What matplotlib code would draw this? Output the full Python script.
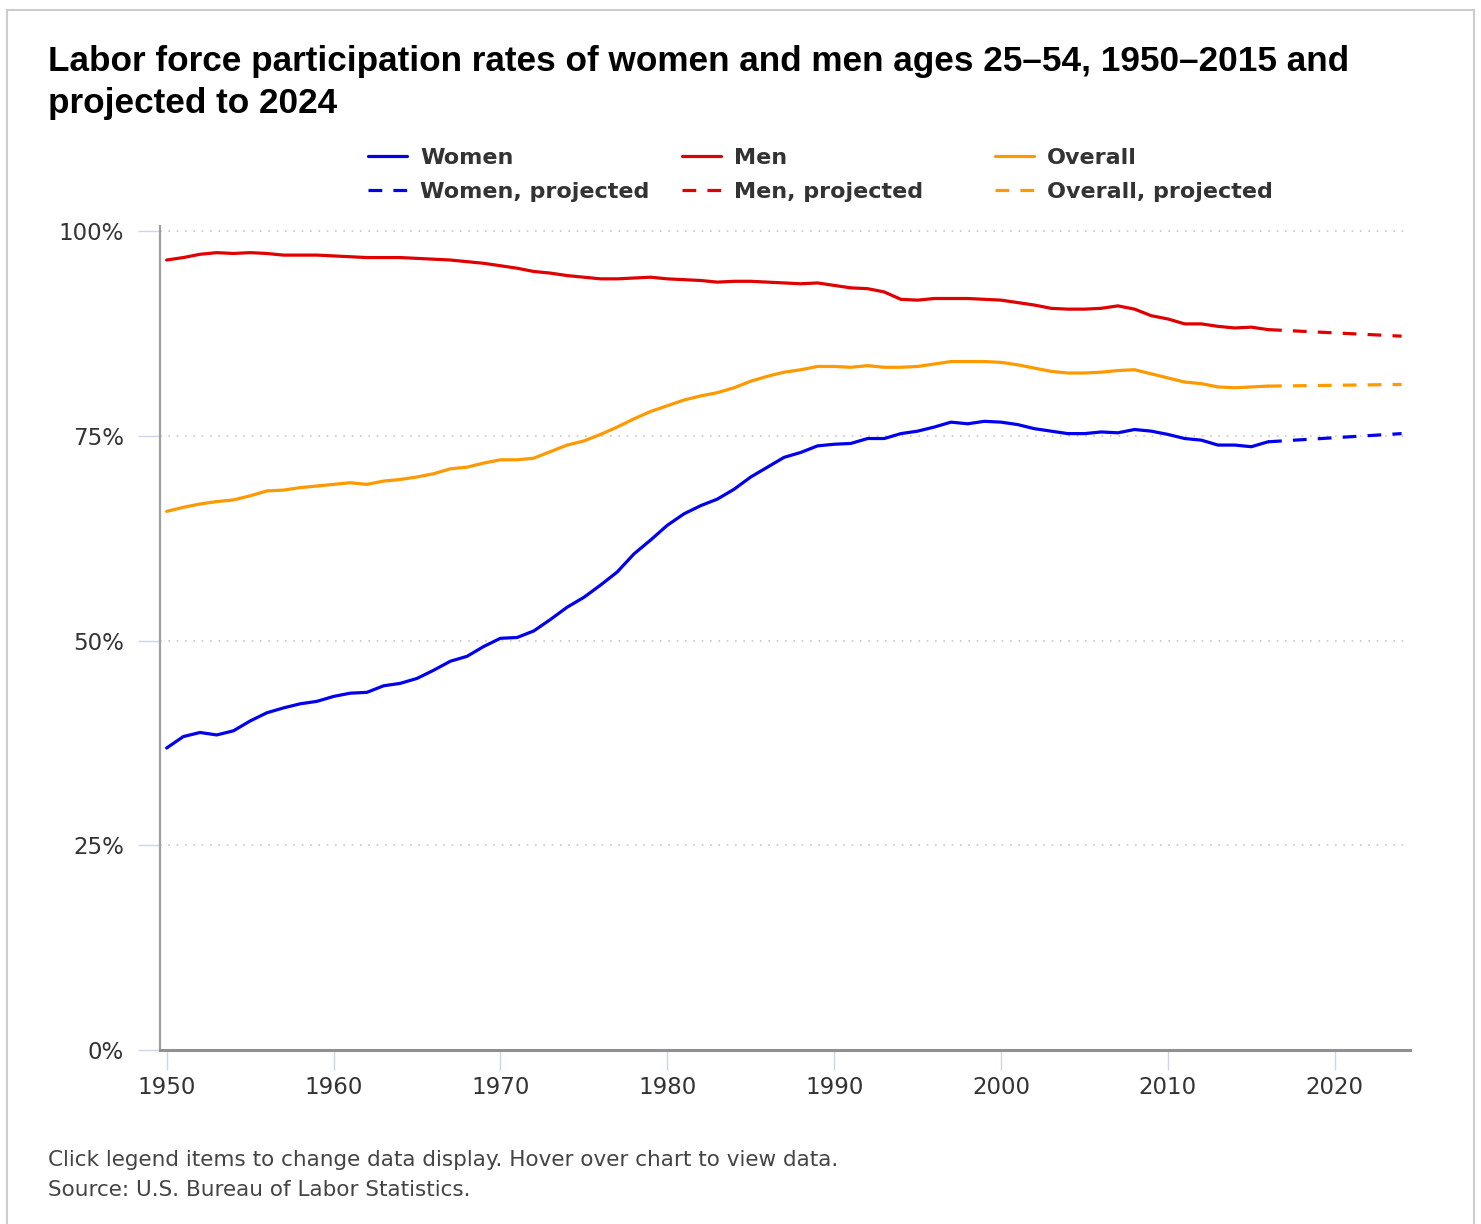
import numpy as np
import matplotlib
matplotlib.use("Agg")
import matplotlib.pyplot as plt
from matplotlib.patches import Rectangle
from matplotlib.ticker import FuncFormatter

## donnees
years = list(range(1950, 2017))
women = [36.9, 38.3, 38.8, 38.5, 39.0, 40.2, 41.2, 41.8, 42.3, 42.6,
         43.2, 43.6, 43.7, 44.5, 44.8, 45.4, 46.4, 47.5, 48.1, 49.3,
         50.3, 50.4, 51.2, 52.6, 54.1, 55.3, 56.8, 58.4, 60.6, 62.3,
         64.1, 65.5, 66.5, 67.3, 68.5, 70.0, 71.2, 72.4, 73.0, 73.8,
         74.0, 74.1, 74.7, 74.7, 75.3, 75.6, 76.1, 76.7, 76.5, 76.8,
         76.7, 76.4, 75.9, 75.6, 75.3, 75.3, 75.5, 75.4, 75.8, 75.6,
         75.2, 74.7, 74.5, 73.9, 73.9, 73.7, 74.3]
men = [96.5, 96.8, 97.2, 97.4, 97.3, 97.4, 97.3, 97.1, 97.1, 97.1,
       97.0, 96.9, 96.8, 96.8, 96.8, 96.7, 96.6, 96.5, 96.3, 96.1,
       95.8, 95.5, 95.1, 94.9, 94.6, 94.4, 94.2, 94.2, 94.3, 94.4,
       94.2, 94.1, 94.0, 93.8, 93.9, 93.9, 93.8, 93.7, 93.6, 93.7,
       93.4, 93.1, 93.0, 92.6, 91.7, 91.6, 91.8, 91.8, 91.8, 91.7,
       91.6, 91.3, 91.0, 90.6, 90.5, 90.5, 90.6, 90.9, 90.5, 89.7,
       89.3, 88.7, 88.7, 88.4, 88.2, 88.3, 88.0]
overall = [65.8, 66.3, 66.7, 67.0, 67.2, 67.7, 68.3, 68.4, 68.7, 68.9,
           69.1, 69.3, 69.1, 69.5, 69.7, 70.0, 70.4, 71.0, 71.2, 71.7,
           72.1, 72.1, 72.3, 73.1, 73.9, 74.4, 75.2, 76.1, 77.1, 78.0,
           78.7, 79.4, 79.9, 80.3, 80.9, 81.7, 82.3, 82.8, 83.1, 83.5,
           83.5, 83.4, 83.6, 83.4, 83.4, 83.5, 83.8, 84.1, 84.1, 84.1,
           84.0, 83.7, 83.3, 82.9, 82.7, 82.7, 82.8, 83.0, 83.1, 82.6,
           82.1, 81.6, 81.4, 81.0, 80.9, 81.0, 81.1]

proj_years = [2016, 2024]
women_proj = [74.3, 75.3]
men_proj = [88.0, 87.2]
overall_proj = [81.1, 81.3]

c_women = "#0000ee"
c_men = "#e00000"
c_overall = "#ff9900"

fig = plt.figure(figsize=(14.81, 12.24), dpi=100)
ax = fig.add_axes([0.108, 0.142, 0.844, 0.673])

lw = 2.3
dash = (0, (4.3, 3.5))
series = [
    (years, women, proj_years, women_proj, c_women, "Women"),
    (years, men, proj_years, men_proj, c_men, "Men"),
    (years, overall, proj_years, overall_proj, c_overall, "Overall"),
]
handles = []
for x, y, xp, yp, c, name in series:
    h1, = ax.plot(x, y, color=c, lw=lw, label=name, solid_capstyle="round")
    h2, = ax.plot(xp, yp, color=c, lw=lw, ls=dash, label=name + ", projected")
    handles.append((h1, h2))

ax.set_xlim(1949.6, 2024.5)
ax.set_ylim(0, 100.6)
ax.set_yticks([0, 25, 50, 75, 100])
ax.yaxis.set_major_formatter(FuncFormatter(lambda v, p: "%d%%" % v))
ax.set_xticks(range(1950, 2021, 10))

for v in [25, 50, 75, 100]:
    ax.axhline(v, color="#c8c8c8", lw=1.2, ls=(0, (1, 4)), zorder=0)

for s in ["top", "right"]:
    ax.spines[s].set_visible(False)
ax.spines["left"].set_color("#a0a0a0")
ax.spines["left"].set_linewidth(1.6)
ax.spines["bottom"].set_color("#909090")
ax.spines["bottom"].set_linewidth(2.2)

ax.tick_params(axis="y", length=16, width=1, color="#ccd6eb", labelsize=16.5,
               labelcolor="#333333", pad=10)
ax.tick_params(axis="x", length=14.5, width=1, color="#ccd6eb", labelsize=16.5,
               labelcolor="#333333", pad=4)

# legende : trois colonnes a largeur fixe
leg_x = [368, 682, 995]
for (h1, h2), xpos in zip(handles, leg_x):
    leg = fig.legend(handles=[h1, h2], loc="upper left",
                     bbox_to_anchor=(xpos / 1481, 1 - 148 / 1224),
                     frameon=False, borderpad=0, borderaxespad=0,
                     prop={"size": 16, "weight": "bold"},
                     handlelength=1.75, handletextpad=0.6, labelspacing=0.62)
    for t in leg.get_texts():
        t.set_color("#333333")

fig.text(0.0325, 0.963, "Labor force participation rates of women and men ages 25\u201354, 1950\u20132015 and\nprojected to 2024",
         fontsize=25.3, fontweight="bold", family="Liberation Sans", va="top",
         ha="left", linespacing=1.33)

fig.text(0.0325, 0.052, "Click legend items to change data display. Hover over chart to view data.",
         fontsize=15.5, color="#444444", va="center")
fig.text(0.0325, 0.028, "Source: U.S. Bureau of Labor Statistics.",
         fontsize=15.5, color="#444444", va="center")

fig.patches.append(Rectangle((0.005, -0.01), 0.99, 1.002, transform=fig.transFigure,
                             fill=False, edgecolor="#cccccc", lw=1.5))

fig.savefig("out.png", dpi=100)
